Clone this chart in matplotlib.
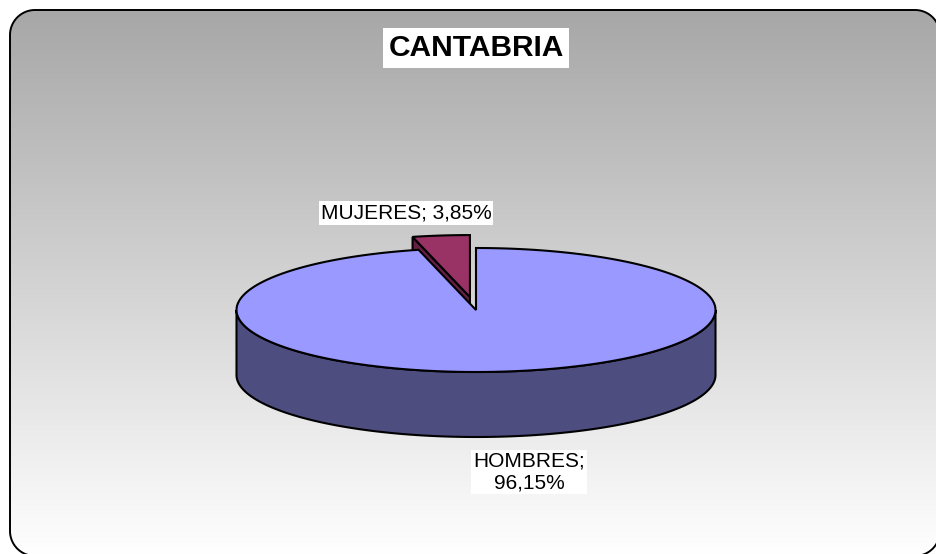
import numpy as np
import matplotlib.pyplot as plt
from matplotlib.patches import Polygon, PathPatch
from matplotlib.path import Path

# datos del grafico
categorias = ['HOMBRES', 'MUJERES']
porcentajes = [96.15, 3.85]
etiquetas = ['HOMBRES;\n96,15%', 'MUJERES; 3,85%']
titulo = 'CANTABRIA'

# estilo
colores_sup = ['#9999ff', '#993366']
colores_lado = ['#4d4d80', '#661f44']
explode = [0.0, 0.21]
cx, cy = 476, 310      # centro de la tarta (px)
a, b = 239.5, 62       # semiejes de la elipse
h = 65                 # grosor de la tarta
lw = 1.5
pos_etiq = [(53, 162), (-70, -97)]  # desplazamiento de etiquetas desde el centro

plt.rcParams['font.family'] = ['Liberation Sans', 'DejaVu Sans']

fig = plt.figure(figsize=(9.36, 5.54), dpi=100)
ax = fig.add_axes([0, 0, 1, 1])
ax.axis('off')


def rect_redondo(x0, y0, x1, y1, r, n=30):
    # rectangulo con esquinas redondeadas en coordenadas de pixel
    pts = []
    esquinas = [(x1 - r, y0 + r, 270, 360), (x1 - r, y1 - r, 0, 90),
                (x0 + r, y1 - r, 90, 180), (x0 + r, y0 + r, 180, 270)]
    for ex, ey, g0, g1 in esquinas:
        t = np.radians(np.linspace(g0, g1, n))
        pts.extend(zip(ex + r * np.cos(t), ey + r * np.sin(t)))
    pts.append(pts[0])
    return Path(pts, closed=True)


# fondo con degradado y esquinas redondeadas
marco = PathPatch(rect_redondo(10, 10, 940, 556, 25), facecolor='none',
                  edgecolor='black', lw=1.4, zorder=3)
ax.add_patch(marco)
grad = np.linspace(0.655, 1.0, 256).reshape(-1, 1)
img = ax.imshow(np.dstack([grad, grad, grad]), extent=(10, 940, 556, 10),
                aspect='auto', zorder=1)
img.set_clip_path(marco)
ax.set_xlim(0, 936)
ax.set_ylim(554, 0)


def arco(t0, t1, dx, dy, z=0, n=200):
    t = np.radians(np.linspace(t0, t1, n))
    return np.column_stack([cx + dx + a * np.sin(t), cy + dy - b * np.cos(t) + z])


# angulos de cada porcion (empezando a las 12, sentido horario)
angulos = []
inicio = 0.0
for v in porcentajes:
    fin = inicio + v / 100 * 360
    angulos.append((inicio, fin))
    inicio = fin

# se dibuja primero la porcion de atras (mujeres) y luego la de delante
for i in [1, 0]:
    t0, t1 = angulos[i]
    tm = np.radians((t0 + t1) / 2)
    dx = a * np.sin(tm) * explode[i]
    dy = -b * np.cos(tm) * explode[i]
    c = np.array([cx + dx, cy + dy])
    # caras radiales visibles
    for t, vis in [(t0, np.sin(np.radians(t0)) < -1e-9), (t1, np.sin(np.radians(t1)) > 1e-9)]:
        if vis:
            p = arco(t, t, dx, dy, n=1)[0]
            cara = [c, p, p + [0, h], c + [0, h]]
            ax.add_patch(Polygon(cara, closed=True, facecolor=colores_lado[i],
                                 edgecolor='black', lw=lw, zorder=5))
    # lateral exterior (mitad delantera)
    s0, s1 = max(t0, 90), min(t1, 270)
    if s1 > s0:
        sup = arco(s0, s1, dx, dy)
        inf = arco(s1, s0, dx, dy, z=h)
        ax.add_patch(Polygon(np.vstack([sup, inf]), closed=True, facecolor=colores_lado[i],
                             edgecolor='black', lw=lw, zorder=5))
    # cara superior
    tapa = np.vstack([c, arco(t0, t1, dx, dy)])
    ax.add_patch(Polygon(tapa, closed=True, facecolor=colores_sup[i],
                         edgecolor='black', lw=lw, joinstyle='miter', zorder=5))

# etiquetas
for i, txt in enumerate(etiquetas):
    ax.text(cx + pos_etiq[i][0], cy + pos_etiq[i][1], txt, fontsize=15,
            ha='center', va='center', linespacing=1.15, zorder=6,
            bbox=dict(facecolor='white', edgecolor='none', pad=1.5))

ax.text(476, 48, titulo, fontsize=21.5, fontweight='bold', ha='center', va='center',
        zorder=6, bbox=dict(facecolor='white', edgecolor='none', pad=4))

fig.savefig('out.png', dpi=100)
